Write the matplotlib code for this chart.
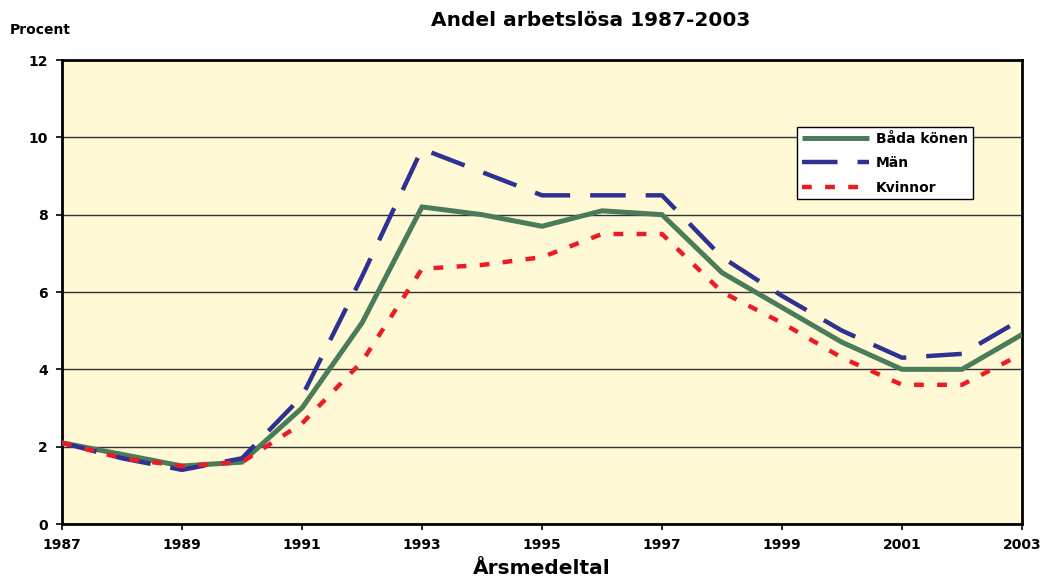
import matplotlib
matplotlib.use("Agg")
import matplotlib.pyplot as plt

years = list(range(1987, 2004))
bada = [2.1, 1.8, 1.5, 1.6, 3.0, 5.2, 8.2, 8.0, 7.7, 8.1, 8.0, 6.5, 5.6, 4.7, 4.0, 4.0, 4.9]
man = [2.1, 1.7, 1.4, 1.7, 3.3, 6.4, 9.7, 9.1, 8.5, 8.5, 8.5, 6.9, 5.9, 5.0, 4.3, 4.4, 5.3]
kvinnor = [2.1, 1.7, 1.5, 1.6, 2.6, 4.2, 6.6, 6.7, 6.9, 7.5, 7.5, 6.0, 5.2, 4.3, 3.6, 3.6, 4.4]
xticks = list(range(1987, 2004, 2))
yticks = [0, 2, 4, 6, 8, 10, 12]

plt.rcParams['font.family'] = ['DejaVu Sans']
fig = plt.figure(figsize=(10.44, 5.87), dpi=100)
ax = fig.add_axes([62/1044, 1 - 524/587, 960/1044, 464/587])
ax.set_facecolor('#FFF9D6')

ax.plot(years, bada, color='#4A7C59', lw=3.6, label='Båda könen', solid_joinstyle='miter',
        solid_capstyle='butt', zorder=3)
ax.plot(years, man, color='#2E3192', lw=3.2, dashes=(8, 4.5), label='Män', zorder=4)
ax.plot(years, kvinnor, color='#ED1C24', lw=3.2, dashes=(2.2, 3.0), label='Kvinnor', zorder=5)

ax.set_xlim(1987, 2003)
ax.set_ylim(0, 12)
ax.set_xticks(xticks)
ax.set_yticks(yticks)
ax.set_xticklabels([str(x) for x in xticks], fontweight='bold', fontsize=10)
ax.set_yticklabels([str(y) for y in yticks], fontweight='bold', fontsize=10)
ax.tick_params(axis='both', direction='out', length=4, width=1.2, pad=6)
ax.grid(axis='y', color='#333333', lw=1)
ax.set_axisbelow(True)
for s in ax.spines.values():
    s.set_linewidth(2)
    s.set_color('black')

ax.set_xlabel('Årsmedeltal', fontweight='bold', fontsize=14.5, labelpad=5)
fig.text(10/1044, 1 - 30/587, 'Procent', fontweight='bold', fontsize=10, ha='left', va='center')
fig.text(591/1044, 1 - 20/587, 'Andel arbetslösa 1987-2003', fontweight='bold', fontsize=14.5, ha='center', va='center')

leg = ax.legend(loc='upper left', bbox_to_anchor=(0.766, 0.856), borderaxespad=0,
                fancybox=False, edgecolor='black', framealpha=1, facecolor='white',
                prop={'weight': 'bold', 'size': 10}, handlelength=4.8, handletextpad=0.5,
                labelspacing=0.75, borderpad=0.35)
leg.get_frame().set_linewidth(1)

fig.savefig('out.png', dpi=100)
